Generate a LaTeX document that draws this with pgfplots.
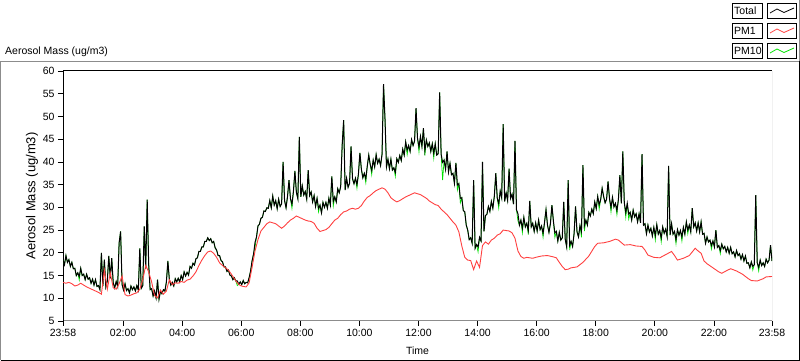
\documentclass[border=0pt]{standalone}
\usepackage{fontspec}
\setmainfont{Liberation Sans}
\usepackage{pgfplots}
\usepackage{pgfplotstable}
\pgfplotsset{compat=1.18}
\definecolor{pmred}{RGB}{255,64,64}
\definecolor{pmgreen}{RGB}{0,225,0}
\definecolor{framegray}{RGB}{140,140,140}

\pgfplotstableread{
t tot pm10
0.00 18.4 18.4
0.05 17.4 17.4
0.10 19.4 19.4
0.15 17.9 17.9
0.20 18.5 18.5
0.25 17.0 17.0
0.30 17.9 17.9
0.35 16.5 16.5
0.40 16.6 16.6
0.45 15.0 15.0
0.50 15.6 15.6
0.55 14.8 14.0
0.60 16.6 16.6
0.65 15.0 15.0
0.70 15.3 15.3
0.75 14.1 14.1
0.80 15.3 15.3
0.85 14.2 14.2
0.90 14.5 14.5
0.95 13.3 13.3
1.00 14.2 14.2
1.05 12.9 12.9
1.10 14.1 14.1
1.15 12.6 12.6
1.20 12.8 12.8
1.25 11.9 11.9
1.30 20.0 20.0
1.35 12.7 12.7
1.40 18.5 18.5
1.45 12.5 12.5
1.50 13.8 13.8
1.55 19.3 19.3
1.60 14.4 14.4
1.65 18.8 18.8
1.70 13.4 13.4
1.75 12.3 12.3
1.80 13.7 13.7
1.85 12.6 12.6
1.90 22.2 22.2
1.95 24.7 24.7
2.00 13.0 13.0
2.05 11.8 11.8
2.10 13.2 13.2
2.15 11.7 11.7
2.20 12.1 12.1
2.25 11.2 11.2
2.30 12.7 12.7
2.35 11.9 11.9
2.40 12.5 12.5
2.45 11.6 11.6
2.50 12.8 12.8
2.55 11.8 11.8
2.60 21.0 21.0
2.65 12.2 12.2
2.70 12.8 12.8
2.75 25.8 25.8
2.80 16.5 16.5
2.85 31.7 31.7
2.90 17.5 17.5
2.95 11.9 11.9
3.00 12.1 12.1
3.05 10.5 10.5
3.10 11.6 11.6
3.15 10.1 10.1
3.20 14.1 14.1
3.25 9.8 9.8
3.30 11.6 11.6
3.35 11.0 11.0
3.40 11.9 11.9
3.45 11.6 11.6
3.50 13.6 13.6
3.55 18.2 18.2
3.60 14.1 14.1
3.65 12.9 12.9
3.70 13.5 13.5
3.75 12.7 12.7
3.80 14.3 14.3
3.85 13.6 13.6
3.90 14.4 14.4
3.95 13.6 13.6
4.00 15.0 15.0
4.05 14.1 14.1
4.10 15.8 15.8
4.15 14.9 14.9
4.20 15.7 15.7
4.25 15.1 15.1
4.30 17.0 17.0
4.35 16.6 16.6
4.40 17.7 17.7
4.45 17.3 17.3
4.50 18.7 18.7
4.55 18.9 18.9
4.60 20.3 20.3
4.65 20.3 20.3
4.70 21.3 21.3
4.75 21.3 21.3
4.80 22.5 22.5
4.85 22.5 22.5
4.90 23.3 23.3
4.95 22.7 22.7
5.00 23.1 23.1
5.05 22.2 22.2
5.10 22.5 22.5
5.15 21.1 21.1
5.20 20.6 20.6
5.25 19.4 19.4
5.30 19.4 19.4
5.35 18.3 18.3
5.40 18.0 18.0
5.45 16.9 16.9
5.50 16.9 16.9
5.55 15.9 15.9
5.60 16.2 16.2
5.65 15.1 15.1
5.70 14.9 14.9
5.75 14.1 14.1
5.80 14.5 14.5
5.85 13.8 13.8
5.90 13.8 12.8
5.95 13.1 13.1
6.00 13.6 13.6
6.05 13.0 13.0
6.10 13.9 13.9
6.15 13.2 13.2
6.20 13.5 13.5
6.25 13.4 13.4
6.30 14.5 14.5
6.35 16.0 16.0
6.40 18.2 18.2
6.45 19.7 19.7
6.50 22.3 21.2
6.55 23.5 23.5
6.60 25.9 25.9
6.65 26.3 26.3
6.70 27.6 27.6
6.75 27.8 27.8
6.80 29.2 29.2
6.85 29.1 29.1
6.90 29.9 29.9
6.95 29.8 29.8
7.00 31.5 31.5
7.05 29.9 29.9
7.10 32.5 32.5
7.15 30.5 30.5
7.20 31.5 31.5
7.25 29.7 29.7
7.30 31.8 31.8
7.35 30.2 30.2
7.40 30.8 30.8
7.45 40.0 40.0
7.50 31.5 31.5
7.55 29.9 29.9
7.60 32.4 32.4
7.65 36.0 36.0
7.70 31.9 31.9
7.75 30.7 29.8
7.80 33.5 33.5
7.85 38.0 38.0
7.90 33.3 33.3
7.95 31.9 31.9
8.00 45.5 45.5
8.05 32.3 32.3
8.10 34.7 34.7
8.15 32.7 32.7
8.20 33.5 33.5
8.25 31.8 31.8
8.30 38.2 38.2
8.35 32.6 32.6
8.40 33.4 33.4
8.45 31.2 31.2
8.50 32.6 32.6
8.55 30.2 30.2
8.60 32.0 32.0
8.65 29.8 29.0
8.70 30.5 30.5
8.75 28.8 28.8
8.80 31.1 31.1
8.85 30.0 30.0
8.90 31.1 31.1
8.95 29.8 29.8
9.00 32.0 32.0
9.05 30.5 30.5
9.10 36.8 36.8
9.15 31.3 30.3
9.20 32.3 32.3
9.25 31.2 31.2
9.30 34.1 34.1
9.35 33.2 33.2
9.40 34.6 34.6
9.45 43.7 43.7
9.50 49.2 49.2
9.55 33.8 33.8
9.60 36.4 36.4
9.65 34.4 34.4
9.70 35.3 35.3
9.75 43.4 43.4
9.80 36.3 36.3
9.85 35.2 35.2
9.90 36.4 36.4
9.95 35.0 34.2
10.00 37.3 37.3
10.05 42.0 42.0
10.10 38.4 38.4
10.15 36.5 36.5
10.20 37.5 37.5
10.25 36.3 35.4
10.30 39.1 39.1
10.35 41.5 41.5
10.40 39.4 39.4
10.45 38.1 37.2
10.50 40.4 40.4
10.55 38.9 38.9
10.60 41.6 41.6
10.65 39.7 39.7
10.70 40.6 40.6
10.75 39.2 39.2
10.80 41.7 41.7
10.85 57.1 57.1
10.90 49.4 49.4
10.95 38.9 38.9
11.00 40.6 40.6
11.05 38.5 38.5
11.10 40.6 40.6
11.15 38.2 38.2
11.20 38.7 38.7
11.25 37.7 36.8
11.30 40.7 40.7
11.35 39.9 39.9
11.40 41.4 41.4
11.45 40.3 40.3
11.50 42.8 42.8
11.55 41.5 41.5
11.60 44.4 44.4
11.65 42.6 41.6
11.70 43.6 43.6
11.75 42.3 42.3
11.80 44.9 44.9
11.85 43.6 43.6
11.90 44.6 44.6
11.95 51.8 51.8
12.00 45.2 45.2
12.05 43.3 42.2
12.10 45.6 45.6
12.15 43.4 43.4
12.20 47.4 47.4
12.25 42.5 41.4
12.30 44.8 44.8
12.35 43.4 43.4
12.40 44.2 44.2
12.45 42.3 42.3
12.50 44.0 44.0
12.55 41.9 40.8
12.60 44.0 44.0
12.65 41.5 41.5
12.70 41.8 41.8
12.75 55.3 55.3
12.80 41.7 41.7
12.85 39.9 36.0
12.90 40.4 40.4
12.95 38.4 38.4
13.00 42.3 42.3
13.05 37.8 37.8
13.10 39.7 39.7
13.15 37.2 37.2
13.20 37.5 37.5
13.25 35.3 35.3
13.30 39.8 39.8
13.35 34.9 33.8
13.40 35.2 35.2
13.45 32.0 31.0
13.50 32.1 32.1
13.55 29.3 29.3
13.60 29.0 29.0
13.65 26.1 26.1
13.70 25.0 25.0
13.75 22.9 22.9
13.80 23.3 23.3
13.85 22.1 22.1
13.90 36.0 36.0
13.95 21.0 21.0
14.00 21.8 21.8
14.05 21.3 20.2
14.10 23.4 23.4
14.15 22.6 22.6
14.20 40.0 40.0
14.25 24.7 24.7
14.30 28.2 28.2
14.35 28.5 28.5
14.40 30.2 30.2
14.45 29.1 29.1
14.50 31.3 31.3
14.55 29.8 29.8
14.60 32.4 32.4
14.65 37.5 37.5
14.70 32.0 32.0
14.75 30.8 29.8
14.80 33.6 33.6
14.85 32.1 32.1
14.90 48.3 48.3
14.95 31.3 31.3
15.00 33.2 33.2
15.05 31.5 31.5
15.10 38.5 38.5
15.15 32.0 32.0
15.20 32.9 32.9
15.25 30.7 30.7
15.30 44.6 44.6
15.35 29.5 29.5
15.40 28.6 27.0
15.45 26.1 26.1
15.50 27.2 27.2
15.55 25.4 24.4
15.60 27.8 27.8
15.65 25.7 25.7
15.70 26.5 26.5
15.75 24.9 24.0
15.80 31.4 31.4
15.85 25.7 25.7
15.90 26.5 26.5
15.95 24.7 24.7
16.00 26.6 26.6
16.05 24.8 24.8
16.10 27.2 27.2
16.15 25.1 25.1
16.20 25.9 25.9
16.25 24.3 23.4
16.30 26.7 26.7
16.35 29.5 29.5
16.40 26.1 26.1
16.45 24.5 24.5
16.50 26.5 26.5
16.55 30.5 30.5
16.60 27.0 27.0
16.65 24.4 23.4
16.70 24.7 24.7
16.75 22.6 22.6
16.80 24.5 24.5
16.85 22.8 22.8
16.90 23.3 23.3
16.95 31.2 31.2
17.00 23.0 23.0
17.05 21.3 21.3
17.10 36.0 36.0
17.15 21.7 20.6
17.20 22.5 22.5
17.25 21.4 21.4
17.30 24.2 24.2
17.35 30.2 30.2
17.40 24.6 24.6
17.45 23.5 23.5
17.50 26.0 26.0
17.55 24.7 23.4
17.60 39.3 39.3
17.65 26.0 24.8
17.70 27.2 27.2
17.75 26.1 26.1
17.80 28.9 28.9
17.85 28.1 28.1
17.90 29.6 29.6
17.95 28.6 28.6
18.00 31.2 31.2
18.05 29.7 29.7
18.10 32.4 32.4
18.15 30.6 29.6
18.20 31.7 31.7
18.25 34.2 34.2
18.30 32.4 32.4
18.35 31.0 31.0
18.40 31.8 31.8
18.45 35.7 35.7
18.50 31.9 31.9
18.55 30.0 29.0
18.60 32.2 32.2
18.65 30.1 30.1
18.70 30.9 30.9
18.75 29.3 28.4
18.80 31.7 31.7
18.85 37.1 37.1
18.90 30.9 30.9
18.95 42.3 42.3
19.00 31.0 31.0
19.05 28.9 27.8
19.10 30.9 30.9
19.15 28.5 27.4
19.20 28.9 28.9
19.25 27.2 27.2
19.30 29.4 29.4
19.35 27.9 27.9
19.40 28.6 28.6
19.45 26.8 26.8
19.50 28.6 28.6
19.55 26.6 26.6
19.60 41.7 41.7
19.65 26.1 26.1
19.70 26.4 26.4
19.75 24.2 24.2
19.80 26.1 26.1
19.85 24.6 24.6
19.90 25.4 25.4
19.95 23.7 23.7
20.00 25.6 25.6
20.05 23.8 22.8
20.10 26.2 26.2
20.15 24.1 24.1
20.20 24.9 24.9
20.25 23.3 22.4
20.30 25.7 25.7
20.35 24.3 24.3
20.40 25.2 25.2
20.45 23.6 23.6
20.50 39.1 39.1
20.55 23.9 23.9
20.60 26.4 26.4
20.65 24.1 24.1
20.70 24.7 24.7
20.75 22.9 22.0
20.80 25.1 25.1
20.85 23.9 23.9
20.90 24.9 24.9
20.95 23.5 22.6
21.00 25.6 25.6
21.05 24.1 24.1
21.10 26.8 26.8
21.15 25.0 24.2
21.20 26.1 26.1
21.25 24.6 24.6
21.30 29.8 29.8
21.35 25.7 25.7
21.40 26.6 26.6
21.45 24.8 24.8
21.50 26.6 26.6
21.55 24.6 24.6
21.60 26.8 26.8
21.65 24.1 24.1
21.70 24.3 24.3
21.75 22.1 22.1
21.80 23.5 23.5
21.85 22.4 22.4
21.90 22.8 22.8
21.95 21.6 20.8
22.00 22.6 22.6
22.05 21.3 21.3
22.10 25.0 25.0
22.15 21.2 21.2
22.20 21.6 21.6
22.25 20.5 19.8
22.30 21.9 21.9
22.35 20.9 20.9
22.40 21.4 21.4
22.45 20.2 20.2
22.50 21.2 21.2
22.55 19.9 19.9
22.60 21.2 21.2
22.65 19.8 19.8
22.70 20.2 20.2
22.75 19.1 19.1
22.80 20.5 20.5
22.85 19.4 19.4
22.90 19.8 19.8
22.95 18.6 18.6
23.00 19.6 19.6
23.05 18.2 18.2
23.10 19.3 19.3
23.15 17.7 17.7
23.20 17.8 17.8
23.25 16.7 16.7
23.30 18.0 18.0
23.35 17.0 16.2
23.40 17.4 17.4
23.45 32.7 32.7
23.50 17.8 17.8
23.55 16.8 16.0
23.60 18.4 18.4
23.65 17.2 17.2
23.70 17.8 17.8
23.75 17.0 17.0
23.80 18.6 18.6
23.85 17.8 17.8
23.90 18.4 18.4
23.95 21.7 21.7
24.00 18.2 18.2
}\totaltable

\pgfplotstableread{
t pm1
0.0 13.5
0.1 13.3
0.2 13.5
0.3 13.2
0.4 12.7
0.5 12.9
0.6 13.3
0.7 12.9
0.8 12.5
0.9 12.2
1.0 11.9
1.1 11.6
1.2 11.3
1.3 10.9
1.4 16.2
1.5 12.0
1.6 15.6
1.7 12.3
1.8 12.0
1.9 13.2
2.0 14.9
2.1 10.8
2.2 10.5
2.3 10.7
2.4 11.0
2.5 11.2
2.6 12.0
2.7 14.1
2.8 17.2
2.9 15.8
3.0 13.6
3.1 10.6
3.2 10.1
3.3 11.8
3.4 10.9
3.5 11.6
3.6 14.1
3.7 13.0
3.8 13.4
3.9 13.3
4.0 13.7
4.1 13.5
4.2 14.0
4.3 14.2
4.4 14.9
4.5 15.8
4.6 17.2
4.7 18.4
4.8 19.4
4.9 20.2
5.0 20.4
5.1 19.9
5.2 19.0
5.3 17.8
5.4 17.2
5.5 16.7
5.6 16.2
5.7 15.3
5.8 14.3
5.9 13.4
6.0 12.8
6.1 12.6
6.2 12.5
6.3 13.4
6.4 16.8
6.5 20.4
6.6 22.9
6.7 24.8
6.8 25.6
6.9 26.4
7.0 26.8
7.1 26.6
7.2 26.4
7.3 25.9
7.4 25.4
7.5 25.9
7.6 26.6
7.7 27.2
7.8 27.6
7.9 28.1
8.0 27.8
8.1 27.5
8.2 27.2
8.3 27.0
8.4 26.9
8.5 26.5
8.6 25.4
8.7 24.7
8.8 24.9
8.9 25.1
9.0 25.6
9.1 26.4
9.2 27.2
9.3 27.6
9.4 28.4
9.5 29.0
9.6 29.2
9.7 29.6
9.8 29.8
9.9 29.6
10.0 29.8
10.1 30.4
10.2 31.4
10.3 32.2
10.4 32.6
10.5 33.2
10.6 33.7
10.7 34.0
10.8 34.3
10.9 34.0
11.0 33.2
11.1 32.1
11.2 31.6
11.3 31.2
11.4 31.5
11.5 31.9
11.6 32.3
11.7 32.6
11.8 32.9
11.9 33.2
12.0 33.0
12.1 32.8
12.2 32.4
12.3 32.0
12.4 31.4
12.5 31.0
12.6 30.6
12.7 30.4
12.8 29.6
12.9 29.0
13.0 28.4
13.1 27.6
13.2 26.8
13.3 26.1
13.4 24.6
13.5 21.5
13.6 19.0
13.7 18.4
13.8 18.3
13.9 16.3
14.0 18.2
14.1 16.8
14.2 21.6
14.3 22.4
14.4 21.9
14.5 22.8
14.6 23.2
14.7 23.9
14.8 24.2
14.9 25.0
15.0 24.9
15.1 24.8
15.2 24.4
15.3 23.2
15.4 20.4
15.5 19.2
15.6 18.8
15.7 19.0
15.8 18.9
15.9 18.8
16.0 19.0
16.2 19.3
16.4 19.4
16.6 19.1
16.7 18.9
16.8 17.9
16.9 17.0
17.0 16.3
17.1 16.4
17.2 16.7
17.4 16.9
17.6 17.9
17.8 19.3
18.0 21.4
18.1 22.1
18.3 22.2
18.5 22.5
18.7 23.0
18.8 22.8
19.0 21.7
19.2 21.8
19.4 21.5
19.6 21.4
19.7 20.6
19.8 19.5
20.0 19.0
20.2 18.9
20.4 19.6
20.6 20.3
20.7 19.4
20.8 18.4
21.0 18.8
21.2 19.4
21.4 21.0
21.5 20.4
21.6 19.9
21.7 18.2
21.8 17.6
22.0 16.7
22.2 15.8
22.3 15.5
22.5 16.2
22.6 16.5
22.8 16.0
23.0 15.3
23.2 14.3
23.3 13.9
23.5 13.8
23.7 14.3
23.8 14.7
24.0 14.8
}\pmonetable

\begin{document}
\begin{tikzpicture}[x=1pt,y=1pt]
\useasboundingbox (0,0) rectangle (800,361);
% panel frame
\draw[framegray, line width=1pt] (0.5,0.5) -- (0.5,299.5) -- (799.5,299.5);
\draw[black, line width=1pt] (799.5,299.5) -- (799.5,0.5) -- (0.5,0.5);
\draw[framegray, line width=1pt] (799.5,300) -- (799.5,361);
% title
\node[anchor=west, inner sep=0pt, font=\fontsize{10.5}{12}\selectfont] at (5,309) {Aerosol Mass (ug/m3)};
% legend
\foreach \yt/\lab in {358/Total, 338/PM1, 318/PM10} {
  \draw[black, line width=0.8pt] (732.5,\yt-15) rectangle (762.5,\yt);
  \node[anchor=west, inner sep=0pt, font=\fontsize{10.5}{12}\selectfont] at (734,\yt-7.5) {\lab};
  \draw[black, line width=0.8pt] (767.5,\yt-15) rectangle (796.5,\yt);
}
\draw[black, line width=0.8pt] (770,348) -- (777,352) -- (784,348.5) -- (794,353);
\draw[pmred, line width=0.8pt] (770,328) -- (777,332) -- (784,328.5) -- (794,333);
\draw[pmgreen, line width=0.8pt] (770,308) -- (777,312) -- (784,308.5) -- (794,313);

\begin{axis}[
  at={(63pt,40pt)}, anchor=south west,
  width=709pt, height=250pt, scale only axis,
  xmin=0, xmax=24, ymin=5, ymax=60,
  enlargelimits=false,
  axis x line*=bottom, axis y line*=left,
  x axis line style={framegray, line width=1pt},
  y axis line style={black, line width=1pt},
  tick align=outside,
  major tick length=5pt, minor tick length=3pt,
  every tick/.style={black, line width=0.8pt},
  xtick={0,2.0333,4.0333,6.0333,8.0333,10.0333,12.0333,14.0333,16.0333,18.0333,20.0333,22.0333,24},
  xticklabels={23:58,02:00,04:00,06:00,08:00,10:00,12:00,14:00,16:00,18:00,20:00,22:00,23:58},
  minor x tick num=8,
  ytick={5,10,15,20,25,30,35,40,45,50,55,60},
  /pgf/number format/assume math mode=true,
  tick label style={font=\fontsize{10.5}{12}\selectfont},
  xlabel={Time},
  ylabel={Aerosol Mass (ug/m3)},
  every axis x label/.style={at={(axis description cs:0.5,-0.12)}, anchor=center, font=\fontsize{10.5}{12}\selectfont},
  every axis y label/.style={at={(axis description cs:-0.0437,0.5)}, rotate=90, anchor=center, font=\fontsize{13}{15}\selectfont},
  clip=true,
]
\addplot[pmgreen, line width=0.7pt] table[x=t, y=pm10] {\totaltable};
\addplot[black, line width=1pt] table[x=t, y=tot] {\totaltable};
\addplot[pmred, line width=0.9pt] table[x=t, y=pm1] {\pmonetable};
\draw[black, line width=1pt] (rel axis cs:0,1) -- (rel axis cs:1,1);
\draw[framegray, line width=1pt] (rel axis cs:1,1) -- (rel axis cs:1,0);
\end{axis}
\end{tikzpicture}
\end{document}
